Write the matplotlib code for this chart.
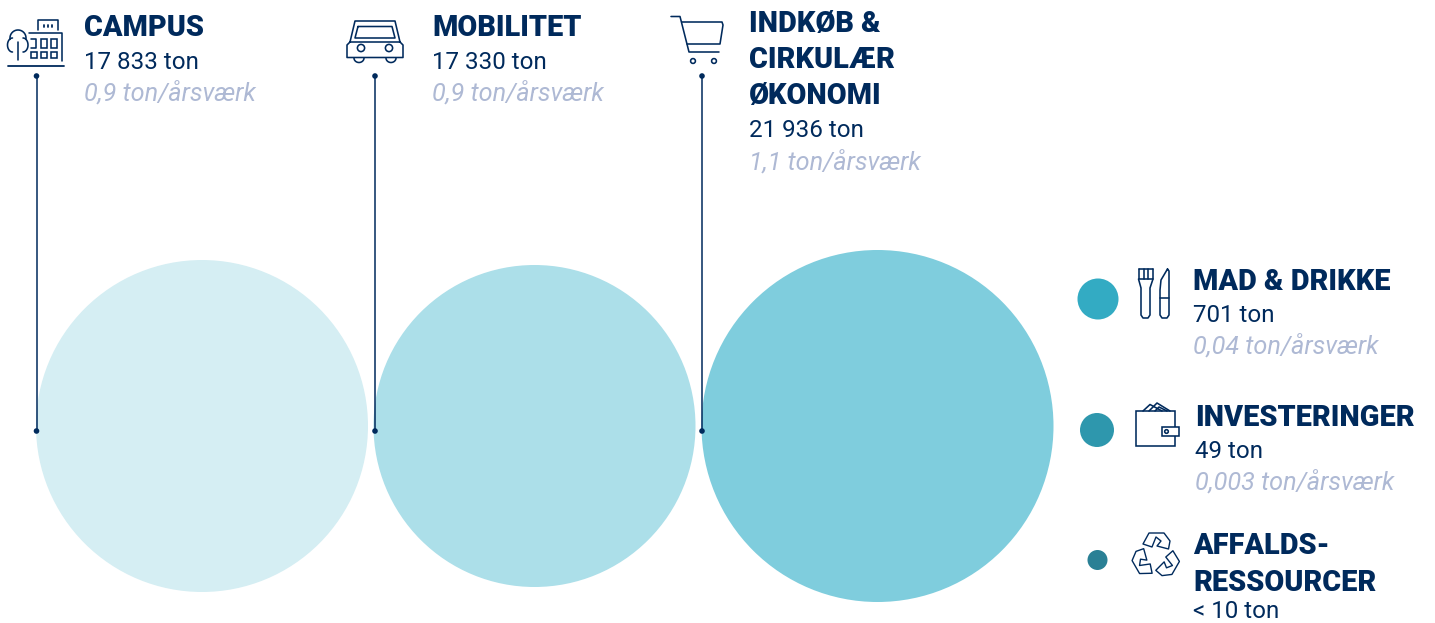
import numpy as np
import matplotlib
matplotlib.use("Agg")
import matplotlib.pyplot as plt
from matplotlib.patches import Circle, Rectangle, Polygon

plt.rcParams['font.family'] = ['Roboto', 'DejaVu Sans']

# ---- data ----
categories = ["CAMPUS", "MOBILITET", "INDKØB &\nCIRKULÆR\nØKONOMI", "MAD & DRIKKE", "INVESTERINGER", "AFFALDS-\nRESSOURCER"]
tons = ["17 833 ton", "17 330 ton", "21 936 ton", "701 ton", "49 ton", "< 10 ton"]
per_fte = ["0,9 ton/årsværk", "0,9 ton/årsværk", "1,1 ton/årsværk", "0,04 ton/årsværk", "0,003 ton/årsværk", ""]
circle_colors = ["#D5EEF3", "#ACDFE9", "#7FCDDD", "#33ABC3", "#2E97AD", "#2A8095"]

NAVY = "#002A5C"
GREY = "#AEB9D4"
W, H = 1435, 623

fig = plt.figure(figsize=(W / 100, H / 100), dpi=100)
ax = fig.add_axes([0, 0, 1, 1])
ax.set_xlim(0, W)
ax.set_ylim(H, 0)
ax.axis("off")

circle_geom = [(202, 426, 166), (534.5, 426, 161), (877.5, 426, 176),
               (1098, 299, 20.5), (1097, 430, 17), (1097.5, 560, 10)]
for (cx, cy, r), c in zip(circle_geom, circle_colors):
    ax.add_patch(Circle((cx, cy), r, fc=c, ec="none", zorder=1))

# leader lines
for x in (36.5, 375, 702):
    ax.plot([x, x], [76, 431], color=NAVY, lw=1.1, zorder=3, solid_capstyle="butt")
    ax.add_patch(Circle((x, 76), 2.8, fc=NAVY, ec="none", zorder=4))
    ax.add_patch(Circle((x, 431), 2.8, fc=NAVY, ec="none", zorder=4))

# text blocks: x, baselines of heading lines, tons, per-fte
blocks = [(84, [36], 69, 101), (432, [36], 69, 101), (749, [32, 68, 104], 137, 170),
          (1193, [290], 322, 354), (1195, [426], 458, 490), (1193, [554, 591], 618, None)]
HEAD_FS, BODY_FS, FTE_FS = 20.8, 17.4, 18.2
for (x, heads, yt, yf), cat, t, f in zip(blocks, categories, tons, per_fte):
    for line_txt, y in zip(cat.split("\n"), heads):
        ax.text(x, y, line_txt, color=NAVY, fontsize=HEAD_FS, fontweight="black", va="baseline", ha="left")
    ax.text(x, yt, t, color=NAVY, fontsize=BODY_FS, fontweight="normal", va="baseline", ha="left")
    if yf and f:
        ax.text(x, yf, f, color=GREY, fontsize=FTE_FS, fontweight="normal", style="italic", va="baseline", ha="left")

LW = 1.15
def line(xs, ys, lw=LW):
    ax.plot(xs, ys, color=NAVY, lw=lw, solid_joinstyle="round", solid_capstyle="round", zorder=3)
def box(x, y, w, h, lw=LW):
    ax.add_patch(Rectangle((x, y), w, h, fc="none", ec=NAVY, lw=lw, zorder=3))
def ring(x, y, r, lw=LW):
    ax.add_patch(Circle((x, y), r, fc="none", ec=NAVY, lw=lw, zorder=3))
def arc(cx, cy, rx, ry, a0, a1, lw=LW):
    t = np.radians(np.linspace(a0, a1, 40))
    line(cx + rx * np.cos(t), cy + ry * np.sin(t), lw)

# campus icon
line([8, 64], [65.5, 65.5], 1.3)
line([37.5, 37.5, 58, 58], [30, 19.5, 19.5, 30])
line([29, 62, 62], [33, 33, 61])
for xx in (44, 48, 52):
    line([xx, xx], [25, 27], 1.3)
for wx in (41, 51):
    box(wx, 38.5, 5.5, 9)
for wx in (31, 41, 51):
    box(wx, 52, 5.5, 6)
line([31, 36, 36, 31], [38.5, 38.5, 47.5, 47.5])
arc(18, 38, 8, 8, 170, 370)
arc(12.5, 45, 5, 7, 90, 270)
arc(23, 45, 5, 7, -90, 90)
line([18, 18], [42, 60])

# car icon
line([350, 347, 347, 403, 403, 400, 395, 355, 350, 400], [42, 45, 57.5, 57.5, 45, 42, 21, 21, 42, 42])
line([358, 392, 395, 355, 358], [26.5, 26.5, 38, 38, 26.5])
ring(361, 48, 3.6); ring(389, 48, 3.6)
arc(359, 58, 5, 4.5, 0, 180); arc(391, 58, 5, 4.5, 0, 180)

# cart icon
line([671, 680, 689, 719], [16.5, 16.5, 52, 52])
line([682, 722, 723, 720, 687], [22, 22, 25, 44, 44])
ring(693, 61, 2.4); ring(714, 61, 2.4)

# cutlery icon
line([1138.5, 1153], [269, 269])
line([1138.5, 1138.5, 1153, 1153], [269, 279, 279, 269])
for xx in (1143.5, 1148):
    line([xx, xx], [269, 279])
line([1138.5, 1141, 1141, 1143, 1148, 1150, 1150, 1153], [279, 288, 315, 318, 318, 315, 288, 279])
line([1167.5, 1169, 1169, 1167, 1162, 1160, 1160, 1161, 1167.5], [269, 271, 315, 318, 318, 315, 290, 280, 269])
line([1160, 1169], [298, 298])

# wallet icon
box(1136, 411, 39, 35)
ax.add_patch(Rectangle((1162, 427), 17, 9, fc="white", ec=NAVY, lw=LW, zorder=3))
ring(1166.5, 431.5, 1.8)
line([1143, 1150, 1162], [411, 404.5, 411])
line([1149, 1157, 1170], [411, 403, 411])
line([1155, 1159, 1167], [411, 407, 411])

# recycling icon
arrow = np.array([[-13, -12], [-7, -23], [8, -23], [14, -15], [12.5, -7], [1, -10], [5, -15], [0, -19], [-4, -9]], float)
for a in (0, 120, 240):
    rad = np.radians(a)
    rot = np.array([[np.cos(rad), -np.sin(rad)], [np.sin(rad), np.cos(rad)]])
    pts = arrow @ rot.T + np.array([1156, 556])
    ax.add_patch(Polygon(pts, closed=True, fc="none", ec=NAVY, lw=1.0, joinstyle="round", zorder=3))

fig.savefig("out.png", dpi=100, facecolor="white")
